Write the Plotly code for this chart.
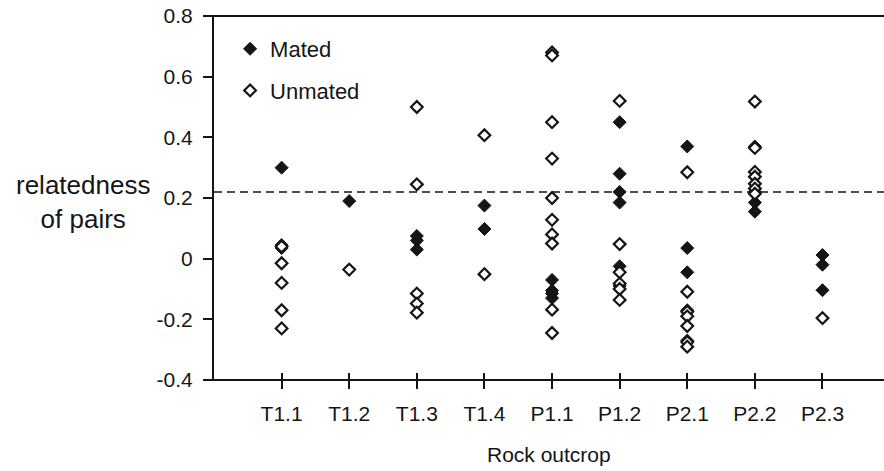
import plotly.graph_objects as go

# ---- data ----
categories = ["T1.1", "T1.2", "T1.3", "T1.4", "P1.1", "P1.2", "P2.1", "P2.2", "P2.3"]

mated = {
    "T1.1": [0.30, 0.045, 0.035],
    "T1.2": [0.19],
    "T1.3": [0.075, 0.06, 0.03],
    "T1.4": [0.175, 0.098],
    "P1.1": [-0.07, -0.105, -0.115, -0.13],
    "P1.2": [0.45, 0.28, 0.22, 0.185, -0.025, -0.09],
    "P2.1": [0.37, 0.035, -0.045, -0.17, -0.27],
    "P2.2": [0.37, 0.22, 0.185, 0.155],
    "P2.3": [0.012, -0.02, -0.104],
}
unmated = {
    "T1.1": [0.04, -0.015, -0.08, -0.17, -0.23],
    "T1.2": [-0.036],
    "T1.3": [0.50, 0.245, -0.115, -0.148, -0.178],
    "T1.4": [0.407, -0.051],
    "P1.1": [0.68, 0.67, 0.45, 0.33, 0.20, 0.128, 0.08, 0.05, -0.168, -0.245],
    "P1.2": [0.52, 0.048, -0.045, -0.082, -0.10, -0.136],
    "P2.1": [0.285, -0.109, -0.175, -0.19, -0.222, -0.275, -0.29],
    "P2.2": [0.518, 0.365, 0.286, 0.27, 0.247, 0.231, 0.214],
    "P2.3": [-0.196],
}
reference_level = 0.22
y_tickvals = [0.8, 0.6, 0.4, 0.2, 0, -0.2, -0.4]
y_ticktext = ["0.8", "0.6", "0.4", "0.2", "0", "-0.2", "-0.4"]

# ---- build ----
def flatten(d):
    xs, ys = [], []
    for c in categories:
        for v in d.get(c, []):
            xs.append(c)
            ys.append(v)
    return xs, ys

FONT = "Arial, 'Liberation Sans', sans-serif"
INK = "#151515"

fig = go.Figure()
ux, uy = flatten(unmated)
mx, my = flatten(mated)
fig.add_trace(go.Scatter(
    x=mx, y=my, mode="markers", name="Mated", legendgroup="a",
    marker=dict(symbol="diamond", size=10, color=INK, line=dict(color=INK, width=1)),
))
fig.add_trace(go.Scatter(
    x=ux, y=uy, mode="markers", name="Unmated", legendgroup="b",
    marker=dict(symbol="diamond", size=9, color="white", line=dict(color=INK, width=2.2)),
))
# helper trace so the overlay axis (inner half of the crossing ticks) is drawn
fig.add_trace(go.Scatter(x=[None], y=[None], xaxis="x2", showlegend=False,
                         hoverinfo="skip", mode="markers"))

fig.add_shape(type="line", xref="paper", x0=0, x1=1, yref="y",
              y0=reference_level, y1=reference_level,
              line=dict(color=INK, width=1.6, dash="8px,5px"), layer="below")
# frame lines (top and bottom), starting a little left of the y axis
fig.add_shape(type="line", xref="paper", x0=-0.013, x1=1, yref="paper", y0=1, y1=1,
              line=dict(color=INK, width=2))
fig.add_shape(type="line", xref="paper", x0=-0.013, x1=1, yref="paper", y0=0, y1=0,
              line=dict(color=INK, width=2))

xrange = [-1, len(categories) - 0.09]

fig.update_layout(
    width=884, height=471,
    margin=dict(l=214, r=0, t=16, b=91),
    paper_bgcolor="white", plot_bgcolor="white",
    font=dict(family=FONT, size=21, color=INK),
    showlegend=True,
    legend=dict(x=0.024, y=0.967, xanchor="left", yanchor="top",
                bgcolor="rgba(0,0,0,0)", font=dict(size=22, color=INK),
                tracegroupgap=10, traceorder="grouped"),
    xaxis=dict(type="category", categoryorder="array", categoryarray=categories,
               range=xrange, showline=False,
               ticks="outside", ticklen=8, tickwidth=2, tickcolor=INK,
               ticklabelstandoff=7, showgrid=False, zeroline=False,
               tickfont=dict(size=21)),
    xaxis2=dict(overlaying="x", range=xrange, anchor="y",
                tickmode="array", tickvals=list(range(len(categories))),
                ticks="inside", ticklen=7, tickwidth=2, tickcolor=INK,
                showticklabels=False, showline=False, showgrid=False, zeroline=False),
    yaxis=dict(range=[-0.4, 0.8], tickmode="array", tickvals=y_tickvals, ticktext=y_ticktext,
               showline=True, linecolor=INK, linewidth=2, ticks="outside", ticklen=9,
               tickwidth=2, tickcolor=INK, showgrid=False, zeroline=False,
               ticklabelstandoff=6, tickfont=dict(size=21)),
)

fig.add_annotation(text="relatedness<br>of pairs", xref="paper", yref="paper",
                   x=-0.196, y=0.49, xanchor="center", yanchor="middle",
                   showarrow=False, font=dict(size=26, color=INK), align="center")
fig.add_annotation(text="Rock outcrop", xref="paper", yref="paper",
                   x=0.5, y=-0.206, xanchor="center", yanchor="middle",
                   showarrow=False, font=dict(size=21, color=INK))

fig.write_html("out.html")
